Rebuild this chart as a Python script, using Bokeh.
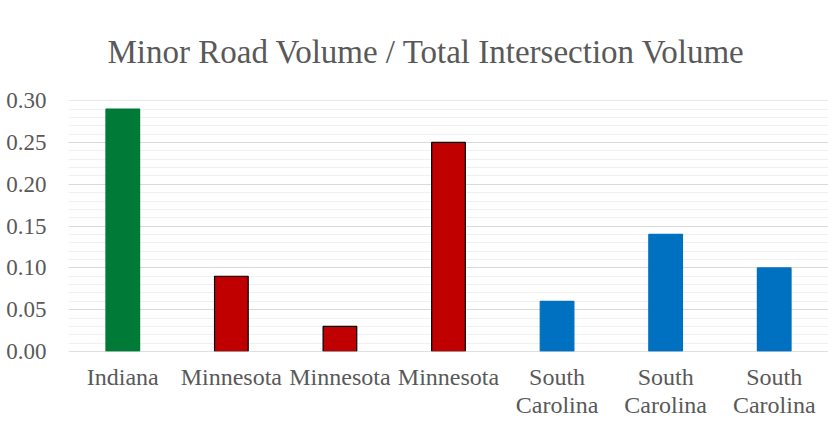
from bokeh.plotting import figure
from bokeh.models import ColumnDataSource, SingleIntervalTicker, FixedTicker, NumeralTickFormatter, Span, Range1d, Title
from bokeh.embed import file_html
from bokeh.resources import INLINE

states = ["Indiana", "Minnesota", "Minnesota", "Minnesota", "South\nCarolina", "South\nCarolina", "South\nCarolina"]
ratios = [0.29, 0.09, 0.03, 0.25, 0.06, 0.14, 0.10]
fill_colors = ["#007A37", "#C00000", "#C00000", "#C00000", "#0070C0", "#0070C0", "#0070C0"]
line_colors = ["#007A37", "#000000", "#000000", "#000000", "#0070C0", "#0070C0", "#0070C0"]

FONT = "Liberation Serif"

xs = list(range(len(states)))
src = ColumnDataSource(dict(x=xs, top=ratios, fill=fill_colors, line=line_colors))

p = figure(width=828, height=421, output_backend="svg", toolbar_location=None,
           x_range=Range1d(-0.5, len(states) - 0.5), y_range=Range1d(0, 0.3002),
           min_border_left=68, min_border_right=0, min_border_top=77, min_border_bottom=50)
p.outline_line_color = None

title = Title(text="Minor Road Volume / Total Intersection Volume", align="left",
              text_font=FONT, text_font_size="33px", text_color="#595959",
              text_font_style="normal", offset=39, standoff=62)
p.add_layout(title, "above")

p.vbar(x="x", top="top", width=0.31, source=src, fill_color="fill", line_color="line", line_width=1.2)

p.yaxis.ticker = SingleIntervalTicker(interval=0.05, num_minor_ticks=5)
p.yaxis.formatter = NumeralTickFormatter(format="0.00")
p.xaxis.ticker = FixedTicker(ticks=xs)
p.xaxis.major_label_overrides = {i: s for i, s in enumerate(states)}

for ax in (p.xaxis, p.yaxis):
    ax.axis_line_color = None
    ax.major_tick_line_color = None
    ax.minor_tick_line_color = None
    ax.major_label_text_font = FONT
    ax.major_label_text_color = "#595959"
p.yaxis.major_label_text_font_size = "23px"
p.xaxis.major_label_text_font_size = "24px"
p.yaxis.major_label_standoff = 16
p.xaxis.major_label_standoff = 6
p.xaxis.major_label_text_line_height = 1.1

p.xgrid.grid_line_color = None
p.ygrid.grid_line_color = "#D9D9D9"
p.ygrid.minor_grid_line_color = "#F0F0F0"
p.ygrid.level = "underlay"

p.add_layout(Span(location=0, dimension="width", line_color="#BFBFBF", line_width=1.2))

open("out.html", "w").write(file_html(p, INLINE))
